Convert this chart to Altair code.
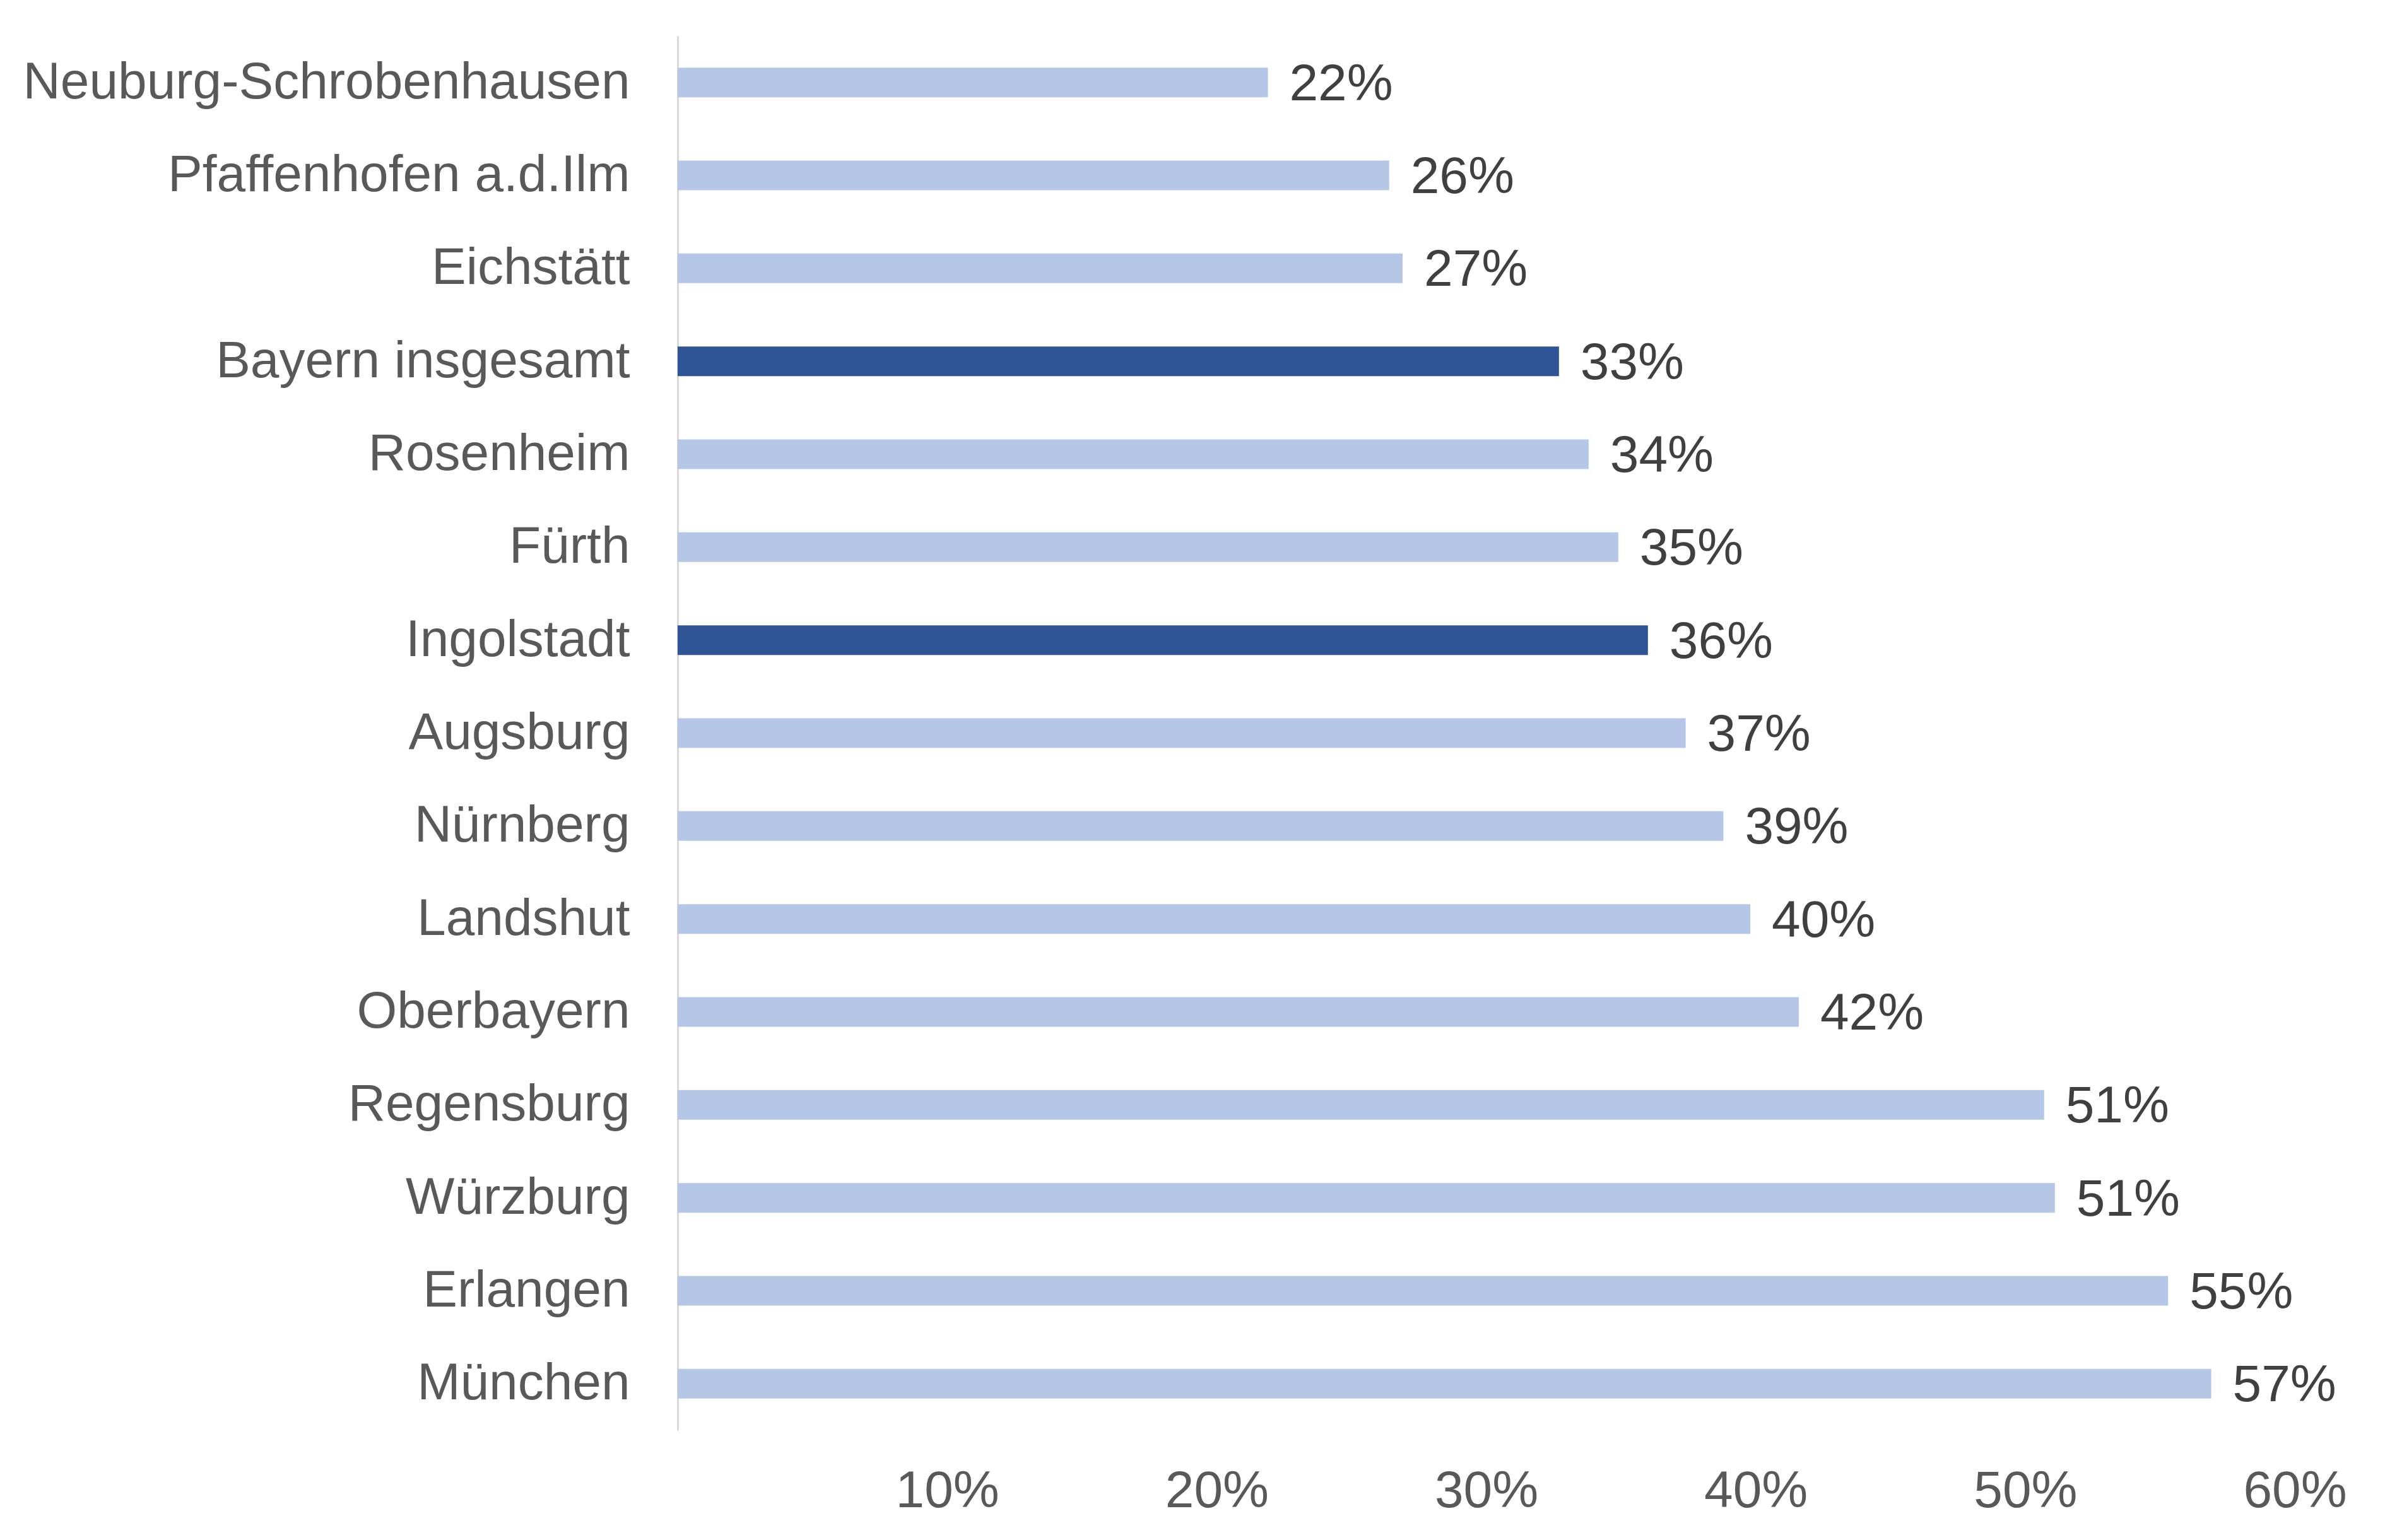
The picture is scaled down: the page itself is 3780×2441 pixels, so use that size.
import altair as alt
import pandas as pd

categories = ["Neuburg-Schrobenhausen", "Pfaffenhofen a.d.Ilm", "Eichstätt", "Bayern insgesamt",
              "Rosenheim", "Fürth", "Ingolstadt", "Augsburg", "Nürnberg", "Landshut",
              "Oberbayern", "Regensburg", "Würzburg", "Erlangen", "München"]
values = [21.9, 26.4, 26.9, 32.7, 33.8, 34.9, 36.0, 37.4, 38.8, 39.8, 41.6, 50.7, 51.1, 55.3, 56.9]
highlight = ["Bayern insgesamt", "Ingolstadt"]
tick_values = [10, 20, 30, 40, 50, 60]

df = pd.DataFrame({"cat": categories, "val": values})
df["hl"] = df["cat"].isin(highlight)
df["lbl"] = df["val"].round(0).astype(int).astype(str) + "%"

FONT = "Liberation Sans"

y = alt.Y("cat:N", sort=categories, title=None,
          axis=alt.Axis(domainColor="#D9D9D9", domainWidth=3, ticks=False, labelFontSize=82,
                        labelFont=FONT, labelColor="#595959", labelPadding=76, labelLimit=2000))
x = alt.X("val:Q", title=None, scale=alt.Scale(domain=[0, 60], nice=False),
          axis=alt.Axis(values=tick_values, labelExpr="datum.value + '%'", grid=False, domain=False,
                        ticks=False, labelFontSize=82, labelFont=FONT, labelColor="#595959",
                        labelPadding=56, labelBaseline="top", labelFlush=False))

bars = alt.Chart(df).mark_bar(size=47).encode(
    y=y, x=x,
    color=alt.condition("datum.hl", alt.value("#2F5597"), alt.value("#B4C7E7")),
)
text = alt.Chart(df).mark_text(align="left", baseline="middle", dx=34, dy=3, fontSize=82,
                               font=FONT, color="#404040").encode(
    y=alt.Y("cat:N", sort=categories), x="val:Q", text="lbl:N")

chart = (bars + text).properties(
    width=2563, height=2210, background="white",
    padding={"left": 28, "top": 49, "right": 5, "bottom": 5},
).configure_view(stroke=None, strokeWidth=0)

chart.save("out.html", embed_options={"renderer": "svg", "actions": False})
